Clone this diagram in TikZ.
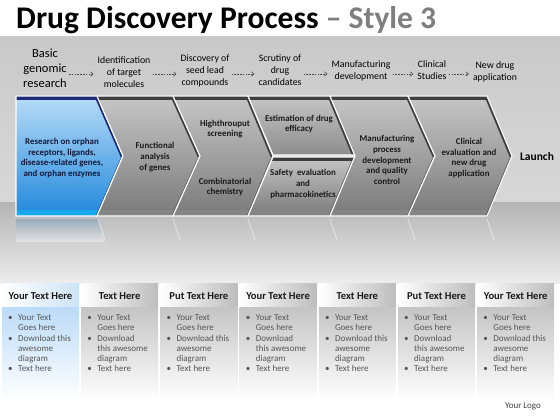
\documentclass[tikz,border=0pt]{standalone}
\usepackage{fontspec}
\setmainfont{Carlito}
\usetikzlibrary{arrows.meta}
\definecolor{bandtop}{HTML}{C9C9C9}
\definecolor{bandbot}{HTML}{D8D8D8}
\definecolor{floortop}{HTML}{B4B4B4}
\definecolor{floorbot}{HTML}{EDEDED}
\definecolor{cgtop}{HTML}{C6C6C6}
\definecolor{cgbot}{HTML}{7A7A7A}
\definecolor{cgdark}{HTML}{3E3E3E}
\definecolor{cgstrip}{HTML}{858585}
\definecolor{cbtop}{HTML}{B8DCF8}
\definecolor{cbbot}{HTML}{2088DC}
\definecolor{cbdark}{HTML}{1B2A7A}
\definecolor{cbstrip}{HTML}{18A6EC}
\definecolor{titlegray}{HTML}{7F7F7F}
\definecolor{txtgray}{HTML}{555555}
\definecolor{hdrgray}{HTML}{BDBDBD}
\definecolor{bodygray}{HTML}{C4C4C4}
\definecolor{hdrblue}{HTML}{CCE3F7}
\definecolor{bodyblue}{HTML}{BBDBF8}
\definecolor{chevtxt}{HTML}{1A1A1A}
\definecolor{navytxt}{HTML}{12183A}

\newcommand\chevpiece[8]{%
  \shade[top color=#2,bottom color=#3] #1;
  \begin{scope}
    \clip #1;
    \fill[#5] (0,210) rectangle (560,218);
    \draw[#4,line width=8pt] (0,#8) -- (560,#8);
    \draw[#4,line width=5pt] (#6,96) -- (#7,156);
    \draw[#4,line width=2.6pt,opacity=0.7] (#7,156) -- (#6,216);
  \end{scope}
  \draw[white,line width=1.1pt,line join=miter] #1;
}
\newcommand\bodyA{\makebox[10pt][l]{•}Your Text\\\hspace*{10pt}Goes here\\\makebox[10pt][l]{•}Download this\\\hspace*{10pt}awesome\\\hspace*{10pt}diagram\\\makebox[10pt][l]{•}Text here}
\newcommand\bodyB{\makebox[10pt][l]{•}Your Text\\\hspace*{10pt}Goes here\\\makebox[10pt][l]{•}Download\\\hspace*{10pt}this awesome\\\hspace*{10pt}diagram\\\makebox[10pt][l]{•}Text here}

\begin{document}
\begin{tikzpicture}[x=1pt,y=-1pt,
  lbl/.style={inner sep=0pt,align=center,font=\fontsize{9.8}{12.2}\selectfont,text=black},
  lblbig/.style={inner sep=0pt,align=center,font=\fontsize{12.5}{15}\selectfont,text=black},
  arr/.style={draw=black!70,line width=0.6pt,dash pattern=on 1.6pt off 1.2pt,
    -{Straight Barb[length=2.5pt,width=4.5pt]},shorten <=2pt,shorten >=4pt},
  ctxt/.style={inner sep=0pt,align=center,font=\bfseries\fontsize{8.9}{10.7}\selectfont,text=chevtxt},
  hdr/.style={inner sep=0pt,font=\bfseries\fontsize{10.6}{12}\selectfont,text=black!90},
  bul/.style={inner sep=0pt,anchor=north west,align=left,font=\fontsize{9}{10.3}\selectfont,text=txtgray}]
\useasboundingbox (0,0) rectangle (560,420);
\fill[white] (0,0) rectangle (560,420);
% background bands
\shade[top color=bandtop,bottom color=bandbot] (0,37) rectangle (560,202);
\shade[top color=floortop,bottom color=floorbot] (0,202) rectangle (560,283);

% title
\node[anchor=base west,inner sep=0pt] (title) at (16,29)
  {\fontsize{31.5}{31}\selectfont\bfseries Drug Discovery Process \textcolor{titlegray}{– Style 3}};

% top labels
\node[lblbig] (l1) at (45,68) {Basic\\genomic\\research};
\node[lbl] (l2) at (124,72) {Identification\\of target\\molecules};
\node[lbl] (l3) at (205,71) {Discovery of\\seed lead\\compounds};
\node[lbl] (l4) at (280,70) {Scrutiny of\\drug\\candidates};
\node[lbl] (l5) at (361,71) {Manufacturing\\development};
\node[lbl] (l6) at (432,70) {Clinical\\Studies};
\node[lbl] (l7) at (495,72) {New drug\\application};
\coordinate (ay) at (0,74);
\foreach \a/\b in {l1/l2,l2/l3,l3/l4,l4/l5,l5/l6,l6/l7}
  \draw[arr] (\a.east |- ay) -- (\b.west |- ay);

% reflections
\shade[top color=black!5!cbtop!55!gray,bottom color=floorbot!90!gray] (16,219) -- (98,219) -- (105,242) -- (16,242) -- cycle;
\foreach \r in {98,173,248,330,408,487}
  \draw[white,opacity=0.5,line width=0.8pt] (\r,219) -- (\r+7,240);

% chevrons
\chevpiece{(16,96) -- (97,96) -- (123,156) -- (97,216) -- (16,216) -- cycle}{cbtop}{cbbot}{cbdark}{cbstrip}{97}{123}{96}
\chevpiece{(97,96) -- (173,96) -- (200,156) -- (173,216) -- (97,216) -- (123,156) -- cycle}{cgtop}{cgbot}{cgdark}{cgstrip}{173}{200}{96}
\chevpiece{(173,96) -- (248,96) -- (273,156) -- (248,216) -- (173,216) -- (200,156) -- cycle}{cgtop}{cgbot}{cgdark}{cgstrip}{248}{273}{96}
\chevpiece{(248,96) -- (330,96) -- (355,155) -- (273,155) -- cycle}{cgtop}{black!45}{cgdark}{cgstrip}{330}{355}{96}
\chevpiece{(273,157) -- (355,157) -- (330,216) -- (248,216) -- cycle}{cgtop}{cgbot}{cgdark}{cgstrip}{330}{355}{157}
\chevpiece{(330,96) -- (408,96) -- (435,156) -- (408,216) -- (330,216) -- (355,156) -- cycle}{cgtop}{cgbot}{cgdark}{cgstrip}{408}{435}{96}
\chevpiece{(408,96) -- (487,96) -- (512,156) -- (487,216) -- (408,216) -- (435,156) -- cycle}{cgtop}{cgbot}{cgdark}{cgstrip}{487}{512}{96}

% chevron texts
\node[ctxt,text=navytxt] (c1) at (62,158) {Research on orphan\\receptors, ligands,\\disease-related genes,\\and orphan enzymes};
\node[ctxt] (c2) at (155,157) {Functional\\analysis\\of genes};
\node[ctxt] (c3a) at (225,129) {Highthrouput\\screening};
\node[ctxt] (c3b) at (225,187) {Combinatorial\\chemistry};
\node[ctxt] (c4a) at (299,124) {Estimation of drug\\efficacy};
\node[ctxt] (c4b) at (303,184) {Safety\ \ evaluation\\and\\pharmacokinetics};
\node[ctxt] (c5) at (387,160) {Manufacturing\\process\\development\\and quality\\control};
\node[ctxt] (c6) at (469,158) {Clinical\\evaluation and\\new drug\\application};
\node[inner sep=0pt,font=\bfseries\fontsize{11.5}{13}\selectfont] (launch) at (537,157) {Launch};

% bottom columns
\shade[left color=white,middle color=white,right color=hdrblue] (2,283) rectangle ++(77,24);
\shade[top color=bodyblue,bottom color=white] (2,307) rectangle ++(77,93);
\node[hdr] (h0) at (40.5,296) {Your Text Here};
\node[bul] (b0) at (8,314.5) {\bodyA};
\foreach \i/\h/\v in {1/Text Here/B,2/Put Text Here/A,3/Your Text Here/B,4/Text Here/A,5/Put Text Here/B,6/Your Text Here/A}{
  \pgfmathsetmacro\xl{2+79.2*\i}
  \shade[left color=white,middle color=white,right color=hdrgray] (\xl,283) rectangle ++(77,24);
  \shade[top color=bodygray,bottom color=white] (\xl,307) rectangle ++(77,93);
  \node[hdr] (h\i) at (\xl+38.5,296) {\h};
  \node[bul] (b\i) at (\xl+6,314.5) {\csname body\v\endcsname};
}
\node[inner sep=0pt,font=\fontsize{9}{10}\selectfont,text=black!75] (logo) at (523,406) {Your Logo};
\end{tikzpicture}
\end{document}
